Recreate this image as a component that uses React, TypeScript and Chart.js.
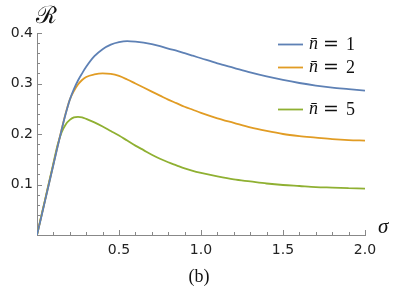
import { useEffect, useRef } from "react";
import { Chart, registerables } from "chart.js";

Chart.register(...registerables);

// sigma values (x)
const SIGMA = [0, 0.025, 0.05, 0.075, 0.1, 0.125, 0.15, 0.175, 0.2, 0.225, 0.25, 0.275, 0.3, 0.35, 0.4, 0.45, 0.5, 0.55, 0.6, 0.65, 0.7, 0.75, 0.8, 0.85, 0.9, 0.95, 1.0, 1.1, 1.2, 1.3, 1.4, 1.5, 1.6, 1.7, 1.8, 1.9, 2.0];
// R for n̄ = 1
const R_N1 = [0, 0.034, 0.069, 0.104, 0.139, 0.174, 0.208, 0.24, 0.268, 0.289, 0.306, 0.32, 0.333, 0.354, 0.368, 0.377, 0.382, 0.384, 0.383, 0.381, 0.378, 0.374, 0.369, 0.365, 0.36, 0.355, 0.35, 0.34, 0.331, 0.322, 0.314, 0.307, 0.301, 0.296, 0.292, 0.289, 0.286];
// R for n̄ = 2
const R_N2 = [0, 0.035, 0.07, 0.105, 0.14, 0.175, 0.209, 0.241, 0.268, 0.285, 0.298, 0.307, 0.313, 0.318, 0.32, 0.319, 0.315, 0.308, 0.3, 0.292, 0.284, 0.276, 0.268, 0.261, 0.254, 0.248, 0.242, 0.231, 0.222, 0.213, 0.206, 0.2, 0.196, 0.193, 0.19, 0.188, 0.187];
// R for n̄ = 5
const R_N5 = [0, 0.036, 0.071, 0.107, 0.142, 0.178, 0.203, 0.219, 0.228, 0.233, 0.234, 0.233, 0.23, 0.223, 0.215, 0.206, 0.197, 0.187, 0.177, 0.168, 0.159, 0.151, 0.144, 0.138, 0.132, 0.127, 0.123, 0.116, 0.11, 0.106, 0.102, 0.099, 0.097, 0.095, 0.094, 0.093, 0.092];

const N_VALUES = ["1", "2", "5"];
const COLORS = ["#5E81B5", "#E19C24", "#8FB032"];
const X_MAJOR_STEP = 0.5;
const Y_MAJOR_STEP = 0.1;
const X_TICK_STEP = 0.1;
const Y_TICK_STEP = 0.02;

function isMultiple(v: number, step: number) {
  const r = v / step;
  return Math.abs(r - Math.round(r)) < 1e-6;
}

export default function App() {
  const ref = useRef<HTMLCanvasElement>(null);

  useEffect(() => {
    const series = [R_N1, R_N2, R_N5];
    const decor = {
      id: "decor",
      afterDraw(chart: any) {
        const { ctx, chartArea } = chart;
        const xs = chart.scales.x;
        const ys = chart.scales.y;
        ctx.save();
        ctx.strokeStyle = "#888888";
        ctx.lineWidth = 1;
        for (let k = 1; k <= 20; k++) {
          const v = k * X_TICK_STEP;
          const px = Math.round(xs.getPixelForValue(v)) + 0.5;
          const len = isMultiple(v, X_MAJOR_STEP) ? 5 : 3;
          ctx.beginPath();
          ctx.moveTo(px, chartArea.bottom);
          ctx.lineTo(px, chartArea.bottom - len);
          ctx.stroke();
        }
        for (let k = 1; k <= 20; k++) {
          const v = k * Y_TICK_STEP;
          const py = Math.round(ys.getPixelForValue(v)) + 0.5;
          const len = isMultiple(v, Y_MAJOR_STEP) ? 5 : 3;
          ctx.beginPath();
          ctx.moveTo(chartArea.left, py);
          ctx.lineTo(chartArea.left + len, py);
          ctx.stroke();
        }

        // legend
        const rows = [44, 67, 109];
        chart.data.datasets.forEach((ds: any, i: number) => {
          const y = rows[i];
          ctx.strokeStyle = ds.borderColor;
          ctx.lineWidth = 1.8;
          ctx.beginPath();
          ctx.moveTo(278, y + 0.5);
          ctx.lineTo(303, y + 0.5);
          ctx.stroke();
          ctx.fillStyle = "#111";
          ctx.textBaseline = "alphabetic";
          ctx.textAlign = "left";
          ctx.font = "italic 18px 'Liberation Serif'";
          ctx.fillText("n\u0304", 309, y + 5);
          ctx.font = "19px 'DejaVu Serif'";
          ctx.fillText("=", 323, y + 6);
          ctx.font = "18px 'Liberation Serif'";
          ctx.fillText(N_VALUES[i], 346, y + 6);
        });

        // axis labels
        ctx.fillStyle = "#111";
        ctx.font = "24px 'DejaVu Serif'";
        ctx.textAlign = "left";
        ctx.textBaseline = "alphabetic";
        ctx.fillText("\u211B", 36, 23);
        ctx.font = "italic 21px 'Liberation Serif'";
        ctx.fillText("\u03C3", 378, 233);
        ctx.font = "18px 'Liberation Serif'";
        ctx.textAlign = "center";
        ctx.fillText("(b)", 199, 282);
        ctx.restore();
      },
    };

    const chart = new Chart(ref.current!, {
      type: "line",
      data: {
        datasets: series.map((arr, i) => ({
          label: "n\u0304 = " + N_VALUES[i],
          data: SIGMA.map((s, j) => ({ x: s, y: arr[j] })),
          borderColor: COLORS[i],
          borderWidth: 1.8,
          pointRadius: 0,
          fill: false,
          cubicInterpolationMode: "monotone" as const,
        })),
      },
      options: {
        responsive: false,
        animation: false,
        layout: { padding: { left: 0, right: 34, top: 33, bottom: 0 } },
        plugins: { legend: { display: false }, tooltip: { enabled: false } },
        scales: {
          x: {
            type: "linear",
            min: 0,
            max: 2,
            afterFit: (s: any) => { s.height = 53; },
            grid: { display: false, drawTicks: false },
            border: { display: true, color: "#888888", width: 1 },
            ticks: {
              stepSize: X_MAJOR_STEP,
              autoSkip: false,
              maxRotation: 0,
              padding: 7,
              color: "#222",
              font: { family: "'DejaVu Sans'", size: 14 },
              callback: (v: any) => (v > 0 ? Number(v).toFixed(1) : ""),
            },
          },
          y: {
            type: "linear",
            min: 0,
            max: 0.4,
            afterFit: (s: any) => { s.width = 37; },
            grid: { display: false, drawTicks: false },
            border: { display: true, color: "#888888", width: 1 },
            ticks: {
              stepSize: Y_MAJOR_STEP,
              autoSkip: false,
              padding: 4,
              color: "#222",
              font: { family: "'DejaVu Sans'", size: 14 },
              callback: (v: any) => (v > 0 ? Number(v).toFixed(1) : ""),
            },
          },
        },
      },
      plugins: [decor],
    });
    return () => chart.destroy();
  }, []);

  return (
    <div style={{ position: "absolute", left: 0, top: 0, width: 399, height: 288, background: "#fff" }}>
      <canvas ref={ref} width={399} height={288} />
    </div>
  );
}
